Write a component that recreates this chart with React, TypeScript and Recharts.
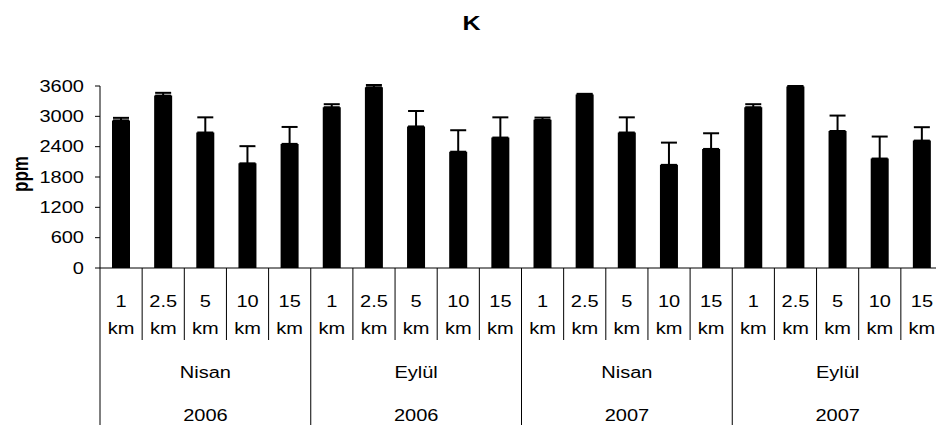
import React from "react";
import { Bar, BarChart, ErrorBar, XAxis, YAxis } from "recharts";

const distances = ["1", "2.5", "5", "10", "15"];
const months = ["Nisan", "Eylül", "Nisan", "Eylül"];
const years = ["2006", "2006", "2007", "2007"];

// mean K concentration (ppm), in order: 2006 Nisan, 2006 Eylül, 2007 Nisan, 2007 Eylül
const means = [
  2920, 3410, 2680, 2070, 2455,
  3180, 3575, 2800, 2300, 2580,
  2930, 3430, 2680, 2040, 2355,
  3180, 3590, 2710, 2165, 2520,
];
// upper error (ppm)
const errors = [
  50, 55, 300, 340, 335,
  60, 45, 305, 425, 400,
  45, 15, 300, 440, 310,
  60, 10, 305, 435, 265,
];
const yTicks = [0, 600, 1200, 1800, 2400, 3000, 3600];

const FONT = "'Liberation Sans', Arial, sans-serif";
const STRETCH = 1.25;

const data = means.map((v, i) => ({
  name: `${months[Math.floor(i / 5)]} ${years[Math.floor(i / 5)]} ${distances[i % 5]} km`,
  value: v,
  err: [0, errors[i]],
}));

const Txt = ({ x, y, children, anchor = "middle", size = 16, bold = false }: any) => (
  <text
    transform={`translate(${x},${y}) scale(${STRETCH},1)`}
    x={0}
    y={0}
    textAnchor={anchor}
    fontFamily={FONT}
    fontSize={size}
    fontWeight={bold ? "bold" : "normal"}
    fill="#000"
  >
    {children}
  </text>
);

const XTick = (props: any) => {
  const { x, y, payload } = props;
  const i = payload.index;
  const half = payload.offset || 21.08;
  const left = x - half;
  const g = Math.floor(i / 5);
  const first = i % 5 === 0;
  return (
    <g>
      <line x1={left} x2={left} y1={y} y2={first ? y + 157 : y + 72} stroke="#000" />
      {i === means.length - 1 && (
        <line x1={x + half} x2={x + half} y1={y} y2={y + 157} stroke="#000" />
      )}
      <Txt x={x} y={y + 38.5}>{distances[i % 5]}</Txt>
      <Txt x={x} y={y + 66}>km</Txt>
      {first && (
        <>
          <Txt x={left + half * 5} y={y + 110}>{months[g]}</Txt>
          <Txt x={left + half * 5} y={y + 152.5}>{years[g]}</Txt>
        </>
      )}
    </g>
  );
};

const YTick = (props: any) => {
  const { x, y, payload } = props;
  return (
    <Txt x={x} y={y + 5.7} anchor="end">
      {payload.value}
    </Txt>
  );
};

const PpmLabel = (props: any) => {
  const vb = props.viewBox || { x: 0, y: 86, height: 182 };
  const cy = vb.y + vb.height / 2 - 3;
  return (
    <text
      transform={`translate(28,${cy}) rotate(-90) scale(1,${STRETCH})`}
      x={0}
      y={0}
      textAnchor="middle"
      fontFamily={FONT}
      fontSize={17}
      fontWeight="bold"
      fill="#000"
    >
      ppm
    </text>
  );
};

export default function App() {
  return (
    <div
      style={{
        position: "absolute",
        left: 0,
        top: 0,
        width: 936,
        height: 429,
        overflow: "hidden",
        background: "#fff",
      }}
    >
      <svg
        width={936}
        height={40}
        style={{ position: "absolute", left: 0, top: 0 }}
      >
        <Txt x={471.5} y={30} size={20} bold>
          K
        </Txt>
      </svg>
      <div style={{ position: "absolute", left: 0, top: 0 }}>
        <BarChart
          width={960}
          height={429}
          data={data}
          margin={{ top: 86, right: 17, left: 0, bottom: 0 }}
          barSize={18}
        >
          <XAxis
            dataKey="name"
            type="category"
            height={161}
            interval={0}
            tickLine={false}
            tickSize={0}
            tickMargin={0}
            axisLine={{ stroke: "#000" }}
            tick={<XTick />}
          />
          <YAxis
            width={100}
            domain={[0, 3600]}
            allowDataOverflow
            ticks={yTicks}
            interval={0}
            tickSize={5}
            tickMargin={11}
            tickLine={{ stroke: "#000" }}
            axisLine={{ stroke: "#000" }}
            tick={<YTick />}
            label={<PpmLabel />}
          />
          <Bar dataKey="value" fill="#000" isAnimationActive={false}>
            <ErrorBar
              dataKey="err"
              width={8}
              stroke="#000"
              strokeWidth={2}
              direction="y"
              isAnimationActive={false}
            />
          </Bar>
        </BarChart>
      </div>
    </div>
  );
}
